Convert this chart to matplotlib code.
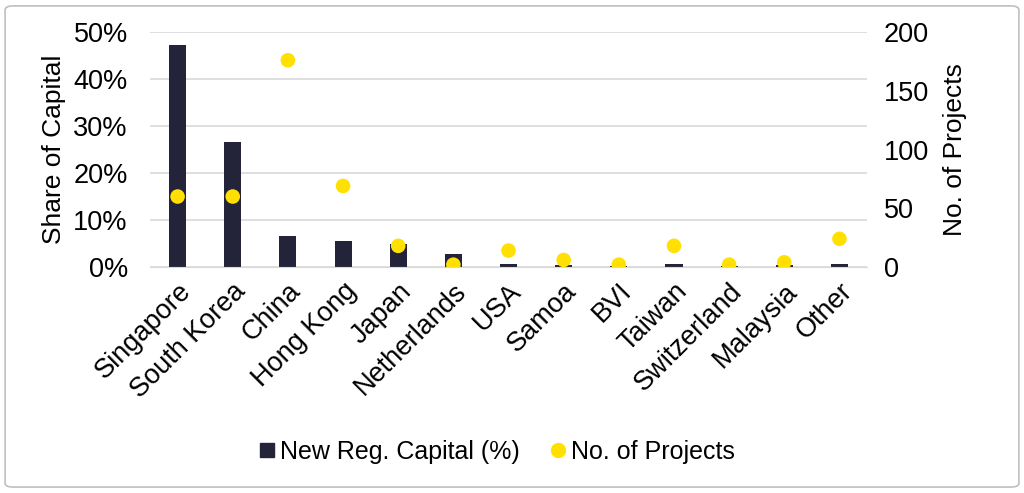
import matplotlib
matplotlib.use("Agg")
import matplotlib.pyplot as plt
from matplotlib.patches import FancyBboxPatch
from matplotlib.lines import Line2D
from matplotlib.ticker import FuncFormatter

plt.rcParams['font.family'] = ['Liberation Sans', 'DejaVu Sans']

categories = ["Singapore", "South Korea", "China", "Hong Kong", "Japan", "Netherlands",
              "USA", "Samoa", "BVI", "Taiwan", "Switzerland", "Malaysia", "Other"]
capital_pct = [47.2, 26.7, 6.6, 5.5, 5.0, 2.7, 0.7, 0.5, 0.3, 0.6, 0.3, 0.4, 0.7]
projects = [60, 60, 176, 69, 18, 2, 14, 6, 2, 18, 2, 4, 24]

bar_color = "#23233a"
dot_color = "#FFE000"
fs = 19.5

fig = plt.figure(figsize=(10.24, 4.93), dpi=100)
ax = fig.add_axes([0.1465, 0.4584, 0.7002, 0.4766])
ax2 = ax.twinx()

x = list(range(len(categories)))
ax.bar(x, capital_pct, width=0.31, color=bar_color, zorder=2)
ax2.scatter(x, projects, s=110, color=dot_color, zorder=3, edgecolors='none')

ax.set_xlim(-0.5, len(categories) - 0.5)
ax.set_ylim(0, 50)
ax2.set_ylim(0, 200)
ax.set_yticks([0, 10, 20, 30, 40, 50])
ax2.set_yticks([0, 50, 100, 150, 200])
ax.yaxis.set_major_formatter(FuncFormatter(lambda v, p: f"{v:.0f}%"))
ax.grid(axis='y', color='#d9d9d9', linewidth=1.2, zorder=0)
ax.set_axisbelow(True)

for a in (ax, ax2):
    for s in a.spines.values():
        s.set_visible(False)
    a.tick_params(length=0, labelsize=fs)
ax.spines['bottom'].set_visible(True)
ax.spines['bottom'].set_color('#d9d9d9')

ax.set_xticks(x)
ax.set_xticklabels(categories, rotation=45, ha='right', rotation_mode='anchor', fontsize=fs)
ax.tick_params(axis='x', pad=8)
ax.tick_params(axis='y', pad=16)
ax2.tick_params(axis='y', pad=12)

ax.set_ylabel("Share of Capital", fontsize=19, labelpad=5)
ax2.set_ylabel("No. of Projects", fontsize=19, labelpad=10)

handles = [Line2D([], [], marker='s', linestyle='none', color=bar_color, markersize=10),
           Line2D([], [], marker='o', linestyle='none', color=dot_color, markersize=10)]
fig.legend(handles, ["New Reg. Capital (%)", "No. of Projects"], loc='center',
           bbox_to_anchor=(0.483, 0.083), ncol=2, frameon=False, fontsize=18,
           handletextpad=0.05, columnspacing=1.0, handlelength=1.0)

frame = FancyBboxPatch((0.005, 0.012), 0.99, 0.976, boxstyle="round,pad=0,rounding_size=0.008",
                       transform=fig.transFigure, facecolor='none', edgecolor='#bfbfbf',
                       linewidth=1.2, zorder=-1)
fig.patches.append(frame)

fig.savefig("out.png", dpi=100)
